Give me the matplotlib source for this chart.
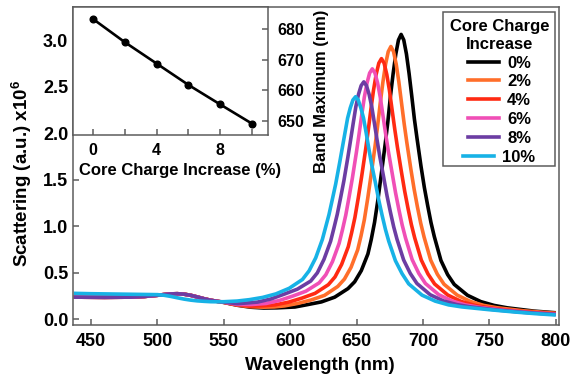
import matplotlib
matplotlib.use('Agg')
import matplotlib.pyplot as plt
from matplotlib.patches import Rectangle
from matplotlib.lines import Line2D

plt.rcParams['font.family'] = ['Liberation Sans', 'DejaVu Sans']
plt.rcParams['font.weight'] = 'bold'
plt.rcParams['mathtext.fontset'] = 'custom'
plt.rcParams['mathtext.rm'] = 'Liberation Sans:bold'
plt.rcParams['mathtext.bf'] = 'Liberation Sans:bold'
plt.rcParams['mathtext.it'] = 'Liberation Sans:bold'

# ---------------- data ----------------
labels = ['0%', '2%', '4%', '6%', '8%', '10%']
colors = ['#000000', '#FF6E2A', '#FF2A12', '#F04FB6', '#6C3DA3', '#17B2E6']

wl_0 = [437, 460, 480, 490, 500, 505, 510, 515, 520, 525, 530, 535, 540, 545, 550, 560, 570, 580, 590, 603.5,
        613.5, 623.5, 633.5, 643.5, 648.5, 653.5, 658.5, 661, 663.5, 666, 668.5, 671.5, 673.5, 675.5, 677.5,
        679.5, 681.5, 683.5, 685.5, 687.5, 689.5, 691.5, 693.5, 695.5, 698.5, 701, 703.5, 706, 708.5, 713.5,
        718.5, 723.5, 733.5, 743.5, 753.5, 763.5, 783.5, 800]
sc_0 = [0.235, 0.233, 0.235, 0.242, 0.255, 0.263, 0.27, 0.272, 0.267, 0.255, 0.237, 0.218, 0.202, 0.19, 0.178,
        0.148, 0.127, 0.118, 0.12, 0.129, 0.156, 0.184, 0.235, 0.327, 0.40, 0.52, 0.70, 0.855, 1.04, 1.278,
        1.55, 1.88, 2.12, 2.40, 2.64, 2.85, 3.00, 3.06, 3.00, 2.85, 2.64, 2.40, 2.15, 1.94, 1.64,
        1.414, 1.22, 1.037, 0.886, 0.629, 0.478, 0.372, 0.255, 0.187, 0.146, 0.12, 0.085, 0.067]

wl_2 = [437, 460, 480, 490, 500, 505, 510, 515, 520, 525, 530, 535, 540, 545, 550, 560, 570, 580, 588, 595.8,
        605.8, 615.8, 625.8, 635.8, 640.8, 645.8, 650.8, 653.3, 655.8, 658.3, 660.8, 663.8, 665.8, 667.8, 669.8,
        671.8, 673.8, 675.8, 677.8, 679.8, 681.8, 683.8, 685.8, 687.8, 690.8, 693.3, 695.8, 698.3, 700.8, 705.8,
        710.8, 715.8, 725.8, 735.8, 745.8, 755.8, 775.8, 800]
sc_2 = [0.235, 0.233, 0.235, 0.242, 0.255, 0.263, 0.27, 0.272, 0.267, 0.255, 0.237, 0.218, 0.202, 0.19, 0.179,
        0.15, 0.132, 0.127, 0.13, 0.141, 0.168, 0.205, 0.254, 0.35, 0.429, 0.556, 0.744, 0.894, 1.067, 1.292,
        1.54, 1.851, 2.076, 2.324, 2.549, 2.74, 2.875, 2.93, 2.875, 2.74, 2.549, 2.324, 2.10, 1.898, 1.615,
        1.396, 1.204, 1.028, 0.881, 0.632, 0.481, 0.374, 0.256, 0.188, 0.146, 0.121, 0.088, 0.062]

wl_4 = [437, 460, 480, 490, 500, 505, 510, 515, 520, 525, 530, 535, 540, 545, 550, 560, 570, 580, 588.7, 598.7,
        608.7, 618.7, 628.7, 633.7, 638.7, 643.7, 646.2, 648.7, 651.2, 653.7, 656.7, 658.7, 660.7, 662.7, 664.7,
        666.7, 668.7, 670.7, 672.7, 674.7, 676.7, 678.7, 680.7, 683.7, 686.2, 688.7, 691.2, 693.7, 698.7, 703.7,
        708.7, 718.7, 728.7, 738.7, 748.7, 768.7, 788.7, 800]
sc_4 = [0.235, 0.233, 0.235, 0.242, 0.255, 0.263, 0.27, 0.272, 0.267, 0.255, 0.237, 0.218, 0.202, 0.19, 0.18,
        0.152, 0.138, 0.142, 0.152, 0.181, 0.224, 0.276, 0.369, 0.452, 0.587, 0.777, 0.926, 1.091, 1.30, 1.525,
        1.816, 2.025, 2.25, 2.459, 2.63, 2.751, 2.80, 2.751, 2.63, 2.459, 2.25, 2.042, 1.849, 1.585, 1.374,
        1.189, 1.017, 0.874, 0.634, 0.485, 0.377, 0.257, 0.189, 0.148, 0.123, 0.087, 0.065, 0.057]

wl_6 = [437, 460, 480, 490, 500, 505, 510, 515, 520, 525, 530, 535, 540, 545, 550, 560, 570, 581.8, 591.8, 601.8,
        611.8, 621.8, 626.8, 631.8, 636.8, 639.3, 641.8, 644.3, 646.8, 649.8, 651.8, 653.8, 655.8, 657.8, 659.8,
        661.8, 663.8, 665.8, 667.8, 669.8, 671.8, 673.8, 676.8, 679.3, 681.8, 684.3, 686.8, 691.8, 696.8, 701.8,
        711.8, 721.8, 731.8, 741.8, 761.8, 781.8, 800]
sc_6 = [0.235, 0.233, 0.235, 0.242, 0.255, 0.263, 0.27, 0.272, 0.267, 0.255, 0.237, 0.218, 0.202, 0.19, 0.181,
        0.157, 0.155, 0.167, 0.199, 0.246, 0.299, 0.389, 0.476, 0.617, 0.813, 0.958, 1.116, 1.311, 1.516, 1.79,
        1.985, 2.19, 2.385, 2.537, 2.645, 2.69, 2.645, 2.537, 2.385, 2.19, 1.995, 1.811, 1.564, 1.358, 1.178,
        1.011, 0.872, 0.639, 0.491, 0.382, 0.262, 0.194, 0.152, 0.127, 0.093, 0.067, 0.053]

wl_8 = [437, 460, 480, 490, 500, 505, 510, 515, 520, 525, 530, 535, 540, 545, 550, 560, 567, 575.4, 585.4, 595.4,
        605.4, 615.4, 620.4, 625.4, 630.4, 632.9, 635.4, 637.9, 640.4, 643.4, 645.4, 647.4, 649.4, 651.4, 653.4,
        655.4, 657.4, 659.4, 661.4, 663.4, 665.4, 667.4, 670.4, 672.9, 675.4, 677.9, 680.4, 685.4, 690.4, 695.4,
        705.4, 715.4, 725.4, 735.4, 755.4, 775.4, 800]
sc_8 = [0.235, 0.233, 0.235, 0.242, 0.255, 0.263, 0.27, 0.272, 0.267, 0.255, 0.237, 0.218, 0.202, 0.19, 0.182,
        0.165, 0.172, 0.182, 0.215, 0.267, 0.321, 0.408, 0.496, 0.641, 0.836, 0.978, 1.125, 1.302, 1.486, 1.74,
        1.919, 2.103, 2.282, 2.416, 2.51, 2.55, 2.51, 2.416, 2.282, 2.103, 1.924, 1.75, 1.521, 1.324, 1.152,
        0.992, 0.858, 0.635, 0.49, 0.382, 0.261, 0.194, 0.155, 0.131, 0.097, 0.072, 0.049]

wl_10 = [437, 450, 460, 480, 490, 500, 505, 510, 515, 520, 525, 530, 535, 540, 545, 550, 560, 569.2, 579.2, 589.2,
         599.2, 609.2, 614.2, 619.2, 624.2, 626.7, 629.2, 631.7, 634.2, 637.2, 639.2, 641.2, 643.2, 645.2, 647.2,
         649.2, 651.2, 653.2, 655.2, 657.2, 659.2, 661.2, 664.2, 666.7, 669.2, 671.7, 674.2, 679.2, 684.2, 689.2,
         699.2, 709.2, 719.2, 729.2, 749.2, 769.2, 784.2, 800]
sc_10 = [0.276, 0.272, 0.27, 0.266, 0.264, 0.262, 0.255, 0.243, 0.228, 0.214, 0.203, 0.195, 0.19, 0.186, 0.185,
         0.186, 0.193, 0.208, 0.232, 0.27, 0.33, 0.425, 0.518, 0.658, 0.856, 0.99, 1.124, 1.286, 1.45, 1.68,
         1.84, 2.0, 2.16, 2.27, 2.355, 2.39, 2.355, 2.27, 2.16, 2.0, 1.83, 1.67, 1.46, 1.276, 1.114,
         0.963, 0.836, 0.627, 0.488, 0.378, 0.257, 0.192, 0.152, 0.13, 0.101, 0.075, 0.058, 0.043]

wavelengths = [wl_0, wl_2, wl_4, wl_6, wl_8, wl_10]
scattering = [sc_0, sc_2, sc_4, sc_6, sc_8, sc_10]

charge_increase = [0, 2, 4, 6, 8, 10]
band_maximum = [683.3, 675.7, 668.7, 661.7, 655.3, 649.0]

x_ticks = [450, 500, 550, 600, 650, 700, 750, 800]
y_ticks = [0.0, 0.5, 1.0, 1.5, 2.0, 2.5, 3.0]
inset_x_ticks = [0, 4, 8]
inset_x_minor = [2, 6, 10]
inset_y_ticks = [650, 660, 670, 680]

# ---------------- figure ----------------
W, H = 571, 377
SPINE = '#5c5c5c'
fig = plt.figure(figsize=(W / 100, H / 100), dpi=100)

ax = fig.add_axes([73 / W, 1 - 325 / H, (559 - 73) / W, (325 - 7) / H])
for wl, sc, c in zip(wavelengths, scattering, colors):
    ax.plot(wl, sc, color=c, lw=2.6, solid_joinstyle='round', solid_capstyle='butt')
ax.set_xlim(436.4, 802.4)
ax.set_ylim(-0.0645, 3.355)
ax.set_xticks(x_ticks)
ax.set_yticks(y_ticks)
ax.set_yticklabels([f'{v:.1f}' for v in y_ticks])
ax.tick_params(direction='in', length=4, width=1.1, color=SPINE, labelsize=13)
ax.tick_params(axis='x', pad=5.5)
ax.tick_params(axis='y', pad=3.5)
for s in ax.spines.values():
    s.set_color(SPINE)
    s.set_linewidth(1.1)
ax.set_xlabel('Wavelength (nm)', fontsize=13.5, fontweight='bold')
ax.xaxis.set_label_coords(0.507, -0.1)
ax.set_ylabel(r'Scattering (a.u.) x10$^{6}$', fontsize=13.5, fontweight='bold')
ax.yaxis.set_label_coords(-0.08, 0.478)

# ---------------- inset ----------------
axin = fig.add_axes([73 / W, 1 - 135 / H, (268 - 73) / W, (135 - 7) / H], zorder=3)
axin.set_facecolor('white')
axin.plot(charge_increase, band_maximum, color='black', lw=1.9, marker='o', markersize=4.8)
axin.set_xlim(-1.25, 11.0)
axin.set_ylim(645.3, 687.2)
axin.set_xticks(inset_x_ticks)
axin.set_xticks(inset_x_minor, minor=True)
axin.yaxis.tick_right()
axin.yaxis.set_label_position('right')
axin.set_yticks(inset_y_ticks)
axin.tick_params(which='both', direction='in', length=4, width=1.1, color=SPINE, labelsize=11.5)
axin.tick_params(axis='x', pad=5.5)
axin.tick_params(axis='y', pad=6.5)
for s in axin.spines.values():
    s.set_color(SPINE)
    s.set_linewidth(1.1)
axin.set_xlabel('Core Charge Increase (%)', fontsize=12, fontweight='bold')
axin.xaxis.set_label_coords(0.549, -0.215)
axin.set_ylabel('Band Maximum (nm)', fontsize=12, fontweight='bold')
axin.yaxis.set_label_coords(1.236, 0.34)

# ---------------- legend (rows centred, drawn in pixel space) ----------------
lax = fig.add_axes([0, 0, 1, 1], zorder=5)
lax.set_xlim(0, W)
lax.set_ylim(H, 0)
lax.axis('off')
lax.patch.set_alpha(0)
lax.add_patch(Rectangle((443, 12), 112, 154, facecolor='white', edgecolor=SPINE, lw=1.1))
cx = 499.5
lax.text(cx, 31, 'Core Charge', ha='center', va='baseline', fontsize=12, fontweight='bold')
lax.text(cx, 49, 'Increase', ha='center', va='baseline', fontsize=12, fontweight='bold')
renderer = fig.canvas.get_renderer()
handle_len, gap = 31, 8
for i, (lab, c) in enumerate(zip(labels, colors)):
    yc = 61.5 + i * 18.8
    t = lax.text(0, yc + 6, lab, ha='left', va='baseline', fontsize=12, fontweight='bold')
    tw = t.get_window_extent(renderer).width
    x0 = cx - (handle_len + gap + tw) / 2
    t.set_x(x0 + handle_len + gap)
    lax.add_line(Line2D([x0, x0 + handle_len], [yc, yc], color=c, lw=2.6))

fig.savefig('out.png', dpi=100)
